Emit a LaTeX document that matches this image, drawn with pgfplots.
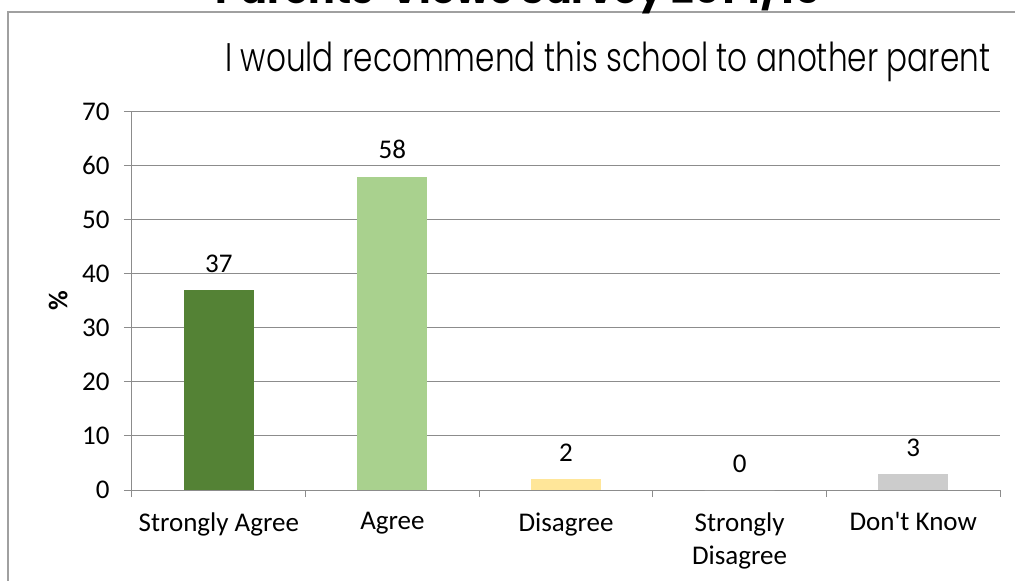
\documentclass[border=0pt]{standalone}
\usepackage{pgfplots}
\pgfplotsset{compat=1.18}
\usepackage{fontspec}
\setmainfont{Carlito}
\newfontfamily\titlefont{Poppins}[UprightFont=* Light, BoldFont=* Bold]
\newfontfamily\boldtitlefont{Poppins}
\definecolor{cSA}{HTML}{548235}
\definecolor{cA}{HTML}{A9D18E}
\definecolor{cD}{HTML}{FFE699}
\definecolor{cDK}{HTML}{CCCCCC}
\definecolor{gridgray}{HTML}{8C8C8C}
\definecolor{framegray}{HTML}{A0A0A0}
\begin{document}
\begin{tikzpicture}[x=1pt,y=1pt]
\path[use as bounding box, clip] (-132,-91) rectangle (883,490);
\draw[color=framegray, line width=1.5pt] (-124,-100) -- (-124,478) -- (900,478);
\node[anchor=base, inner sep=0pt] at (386,486) {\resizebox{605pt}{!}{\boldtitlefont\bfseries Parents' Views Survey 2014/15}};
\node[anchor=base west, inner sep=0pt] at (93,418) {\resizebox{765pt}{30pt}{\titlefont I would recommend this school to another parent}};
\begin{axis}[
  at={(0,0)}, anchor=south west,
  scale only axis, width=868pt, height=378.3pt,
  xmin=0, xmax=5, ymin=0, ymax=70,
  ytick={0,10,...,70},
  ymajorgrids, grid style={gridgray, line width=1pt},
  axis x line*=bottom, axis y line*=left,
  axis line style={gridgray, line width=1pt},
  xtick={0.5,1.5,2.5,3.5,4.5},
  xticklabels={Strongly Agree, Agree, Disagree, {Strongly\\Disagree}, Don\textquotesingle t Know},
  minor xtick={0,1,2,3,4,5},
  major x tick style={draw=none},
  minor x tick style={draw=gridgray, line width=1pt},
  y tick style={draw=gridgray, line width=1pt},
  minor tick length=7pt, major tick length=8pt,
  tick align=outside,
  /pgf/number format/assume math mode=true,
  tick label style={font=\fontsize{27}{33}\selectfont, black},
  xticklabel style={align=center, yshift=-11pt},
  yticklabel style={xshift=-11pt},
  ylabel={\textbf{\%}},
  ylabel style={font=\fontsize{27}{31}\selectfont, at={(axis description cs:-0.085,0.5)}, anchor=center},
  ybar, bar width=70pt,
  nodes near coords,
  every node near coord/.append style={font=\fontsize{27}{31}\selectfont, yshift=14pt, black},
]
\addplot[fill=cSA, draw=none, bar shift=0pt] coordinates {(0.5,37)};
\addplot[fill=cA, draw=none, bar shift=0pt] coordinates {(1.5,58)};
\addplot[fill=cD, draw=none, bar shift=0pt] coordinates {(2.5,2)};
\addplot[fill=cDK, draw=none, bar shift=0pt] coordinates {(3.5,0)};
\addplot[fill=cDK, draw=none, bar shift=0pt] coordinates {(4.5,3)};
\end{axis}
\end{tikzpicture}
\end{document}
